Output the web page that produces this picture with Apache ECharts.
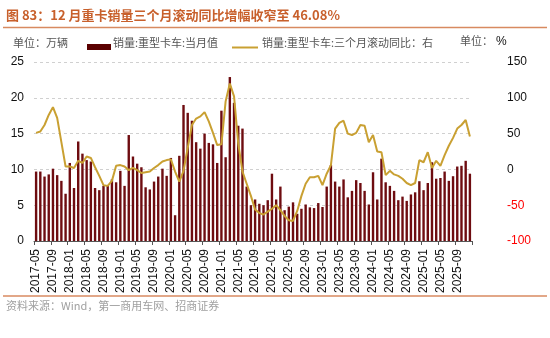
<!DOCTYPE html>
<html><head><meta charset="utf-8">
<script src="https://cdn.jsdelivr.net/npm/echarts@6/dist/echarts.min.js"></script>
<style>html,body{margin:0;padding:0;background:#fff}#c{width:550px;height:338px}</style>
</head><body><div id="c"></div>
<script>
const months = ['2017-05','2017-06','2017-07','2017-08','2017-09','2017-10','2017-11','2017-12',
'2018-01','2018-02','2018-03','2018-04','2018-05','2018-06','2018-07','2018-08','2018-09','2018-10','2018-11','2018-12',
'2019-01','2019-02','2019-03','2019-04','2019-05','2019-06','2019-07','2019-08','2019-09','2019-10','2019-11','2019-12',
'2020-01','2020-02','2020-03','2020-04','2020-05','2020-06','2020-07','2020-08','2020-09','2020-10','2020-11','2020-12',
'2021-01','2021-02','2021-03','2021-04','2021-05','2021-06','2021-07','2021-08','2021-09','2021-10','2021-11','2021-12',
'2022-01','2022-02','2022-03','2022-04','2022-05','2022-06','2022-07','2022-08','2022-09','2022-10','2022-11','2022-12',
'2023-01','2023-02','2023-03','2023-04','2023-05','2023-06','2023-07','2023-08','2023-09','2023-10','2023-11','2023-12',
'2024-01','2024-02','2024-03','2024-04','2024-05','2024-06','2024-07','2024-08','2024-09','2024-10','2024-11','2024-12',
'2025-01','2025-02','2025-03','2025-04','2025-05','2025-06','2025-07','2025-08','2025-09','2025-10','2025-11','2025-12'];

// 销量:重型卡车:当月值 (万辆)
const monthlySales = [9.7,9.7,9.0,9.3,10.1,9.2,8.4,6.6,10.9,7.4,
13.9,12.2,11.3,11.1,7.4,7.1,7.7,7.8,8.6,8.2,
9.8,7.7,14.8,11.8,10.8,10.3,7.5,7.2,8.3,9.0,
10.1,9.1,11.6,3.6,11.9,19.0,17.9,16.8,13.8,12.9,
15.0,13.7,13.5,10.9,18.2,11.7,22.9,19.3,16.1,15.7,
7.6,5.0,5.8,5.2,5.0,5.7,9.4,5.8,7.6,4.3,
4.8,5.4,3.8,4.5,5.1,4.7,4.6,5.3,4.75,7.6,
10.6,8.3,7.6,8.6,6.1,7.0,8.5,8.1,7.0,5.1,
9.6,5.8,11.5,8.2,7.7,7.0,5.7,6.2,5.6,6.5,
6.8,8.35,7.1,8.1,11.0,8.7,8.8,9.7,8.4,9.05,
10.4,10.5,11.2,9.4];

// 销量:重型卡车:三个月滚动同比 (%)
const rollingYoY = [51,53,62,76,87,72,38,4,4,2,
12,9,18,16,3,-9,-22,-23,-16,5,
6,4,-1,2,-1,-5,-4,-3,2,6,
11,13,14,-3,-17,-2,30,62,71,74,
80,67,51,34,35,95,120,102,36,-3,
-20,-37,-56,-61,-63,-59,-55,-50,-57,-65,
-71,-72,-58,-37,-20,-11,-11,-9,-22,-6,
6,57,65,68,50,48,51,62,61,38,
48,25,24,-8,-2,-7,-9,-13,-19,-22,
-19,13,10,24,2,12,5,20,33,44,
57,62,69,46.08];

const barName = '销量:重型卡车:当月值';
const lineName = '销量:重型卡车:三个月滚动同比：右';
const titleText = '图 83：12 月重卡销量三个月滚动同比增幅收窄至 46.08%';
const sourceText = '资料来源：Wind，第一商用车网、招商证券';

const CJK = '"Noto Sans CJK SC", sans-serif';
const NUM = '"Liberation Sans", Arial, sans-serif';
const barColor = '#6E0C10';
const lineColor = '#C9A032';

const chart = echarts.init(document.getElementById('c'), null, {renderer: 'canvas'});
chart.setOption({
  animation: false,
  backgroundColor: '#fff',
  grid: {left: 34, right: 78, top: 62, bottom: 97, containLabel: false},
  xAxis: {
    type: 'category',
    data: months,
    boundaryGap: true,
    axisLine: {show: true, lineStyle: {color: '#555', width: 1}},
    axisTick: {show: true, interval: 3, length: 4, lineStyle: {color: '#555'}},
    axisLabel: {interval: 3, rotate: 90, margin: 8, fontFamily: NUM, fontSize: 12, color: '#111'},
    splitLine: {show: false}
  },
  yAxis: [{
    type: 'value', min: 0, max: 25, interval: 5, position: 'left',
    axisLine: {show: false}, axisTick: {show: false},
    axisLabel: {margin: 10, fontFamily: NUM, fontSize: 12, color: '#111'},
    splitLine: {show: true, lineStyle: {color: '#d0d0d0', type: [3, 3], width: 1}}
  }, {
    type: 'value', min: -100, max: 150, interval: 50, position: 'right',
    axisLine: {show: false}, axisTick: {show: false},
    axisLabel: {margin: 35, align: 'left', fontFamily: NUM, fontSize: 12,
      color: function (v) { return v < 0 ? '#FF0000' : '#111'; }},
    splitLine: {show: false}
  }],
  series: [{
    name: barName, type: 'bar', data: monthlySales, yAxisIndex: 0,
    barWidth: 2.4, itemStyle: {color: barColor}, z: 2
  }, {
    name: lineName, type: 'line', data: rollingYoY, yAxisIndex: 1,
    showSymbol: false, symbol: 'none', lineStyle: {color: lineColor, width: 2}, z: 3
  }],
  graphic: [
    {type: 'text', left: 6, top: 9, style: {text: titleText, font: 'bold 13px ' + CJK, fill: '#C8602C'}},
    {type: 'line', shape: {x1: 3, y1: 27.5, x2: 547, y2: 27.5}, style: {stroke: '#D88A60', lineWidth: 1.5}},
    {type: 'text', left: 13, top: 37, style: {text: '单位：万辆', font: '11px ' + CJK, fill: '#555'}},
    {type: 'rect', shape: {x: 87, y: 44, width: 24, height: 6}, style: {fill: '#5A0000'}},
    {type: 'text', left: 113, top: 37, style: {text: barName, font: '11px ' + CJK, fill: '#555'}},
    {type: 'line', shape: {x1: 232, y1: 47.5, x2: 258, y2: 47.5}, style: {stroke: lineColor, lineWidth: 2}},
    {type: 'text', left: 262, top: 37, style: {text: lineName, font: '11px ' + CJK, fill: '#555'}},
    {type: 'text', left: 460, top: 35, style: {text: '单位：', font: '11px ' + CJK, fill: '#555'}},
    {type: 'text', left: 496, top: 36, style: {text: '%', font: '12px ' + NUM, fill: '#111'}},
    {type: 'line', shape: {x1: 3, y1: 296, x2: 547, y2: 296}, style: {stroke: '#D88A60', lineWidth: 1.5}},
    {type: 'text', left: 6, top: 300, style: {text: sourceText, font: '11px ' + CJK, fill: '#A0A0A0'}}
  ]
});
</script></body></html>
